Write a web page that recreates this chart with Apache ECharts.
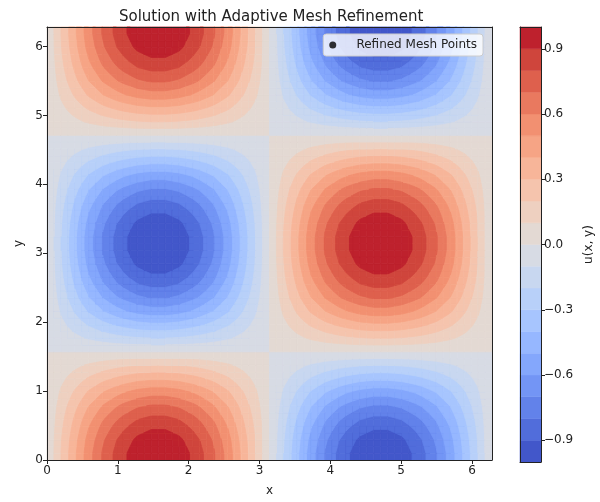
<!DOCTYPE html>
<html>
<head>
<meta charset="utf-8">
<script src="https://cdn.jsdelivr.net/npm/echarts@6/dist/echarts.min.js"></script>
<style>
html, body { margin: 0; padding: 0; background: #fff; }
#main { width: 600px; height: 502px; }
</style>
</head>
<body>
<div id="main"></div>
<script>
// u along the bottom edge (y = 0), read at 65 evenly spaced x nodes from 0 to 2π
const xProfile = [
  0.00, 0.10, 0.20, 0.29, 0.38, 0.47, 0.56, 0.63, 0.71, 0.77, 0.83, 0.88, 0.92, 0.96, 0.98, 1.00, 1.00,
  1.00, 0.98, 0.96, 0.92, 0.88, 0.83, 0.77, 0.71, 0.63, 0.56, 0.47, 0.38, 0.29, 0.20, 0.10, 0.00,
  -0.10, -0.20, -0.29, -0.38, -0.47, -0.56, -0.63, -0.71, -0.77, -0.83, -0.88, -0.92, -0.96, -0.98, -1.00, -1.00,
  -1.00, -0.98, -0.96, -0.92, -0.88, -0.83, -0.77, -0.71, -0.63, -0.56, -0.47, -0.38, -0.29, -0.20, -0.10, 0.00
];
// u along the column x = π/2, read at 65 evenly spaced y nodes from 0 to 2π
const yProfile = [
  1.00, 1.00, 0.98, 0.96, 0.92, 0.88, 0.83, 0.77, 0.71, 0.63, 0.56, 0.47, 0.38, 0.29, 0.20, 0.10, 0.00,
  -0.10, -0.20, -0.29, -0.38, -0.47, -0.56, -0.63, -0.71, -0.77, -0.83, -0.88, -0.92, -0.96, -0.98, -1.00, -1.00,
  -1.00, -0.98, -0.96, -0.92, -0.88, -0.83, -0.77, -0.71, -0.63, -0.56, -0.47, -0.38, -0.29, -0.20, -0.10, 0.00,
  0.10, 0.20, 0.29, 0.38, 0.47, 0.56, 0.63, 0.71, 0.77, 0.83, 0.88, 0.92, 0.96, 0.98, 1.00, 1.00
];
// contour levels, from the colorbar
const levels = [-1.0, -0.9, -0.8, -0.7, -0.6, -0.5, -0.4, -0.3, -0.2, -0.1, 0.0,
                0.1, 0.2, 0.3, 0.4, 0.5, 0.6, 0.7, 0.8, 0.9, 1.0];
// coolwarm colours, one per band
const bandColors = [
  '#4257ca', '#516ddb', '#6282ea', '#7395f5', '#84a7fc', '#96b7ff', '#a7c5fe', '#b8d0f9', '#c8d7f0', '#d7dbe4',
  '#e3d9d3', '#eed0c0', '#f5c4ad', '#f7b599', '#f6a485', '#f29071', '#e9795f', '#de604d', '#cf453c', '#be212d'
];
const xTicks = [0, 1, 2, 3, 4, 5, 6];
const yTicks = [0, 1, 2, 3, 4, 5, 6];
const cbTicks = [-0.9, -0.6, -0.3, 0.0, 0.3, 0.6, 0.9];
const meshName = 'Refined Mesh Points';
const meshPoints = [];

const TWO_PI = 2 * Math.PI;
const FONT = 'DejaVu Sans';
const INK = '#222';

const xs = xProfile.map((_, k) => TWO_PI * k / (xProfile.length - 1));
const ys = yProfile.map((_, k) => TWO_PI * k / (yProfile.length - 1));

// grid cells: corners + u at the four corners
const cells = [];
for (let j = 0; j < ys.length - 1; j++) {
  for (let i = 0; i < xs.length - 1; i++) {
    cells.push([
      xs[i], ys[j], xs[i + 1], ys[j + 1],
      xProfile[i] * yProfile[j],
      xProfile[i + 1] * yProfile[j],
      xProfile[i + 1] * yProfile[j + 1],
      xProfile[i] * yProfile[j + 1]
    ]);
  }
}

function bandOf(v) {
  let b = 0;
  while (b < bandColors.length - 1 && levels[b + 1] <= v) b++;
  return b;
}

// part of a cell where u > c (corners walked in order, edges cut linearly)
function clipAbove(pts, vals, c) {
  const out = [];
  for (let k = 0; k < 4; k++) {
    const a = pts[k], b = pts[(k + 1) % 4];
    const va = vals[k], vb = vals[(k + 1) % 4];
    if (va > c) out.push(a);
    if ((va > c) !== (vb > c)) {
      const t = (c - va) / (vb - va);
      out.push([a[0] + t * (b[0] - a[0]), a[1] + t * (b[1] - a[1])]);
    }
  }
  return out;
}

function poly(points, color) {
  return {
    type: 'polygon',
    shape: { points: points },
    style: { fill: color, stroke: color, lineWidth: 0.8 }
  };
}

function renderCell(params, api) {
  const x0 = api.value(0), y0 = api.value(1), x1 = api.value(2), y1 = api.value(3);
  const vals = [api.value(4), api.value(5), api.value(6), api.value(7)];
  const pts = [api.coord([x0, y0]), api.coord([x1, y0]), api.coord([x1, y1]), api.coord([x0, y1])];
  const lo = Math.min.apply(null, vals), hi = Math.max.apply(null, vals);
  const b0 = bandOf(lo);
  const children = [poly(pts, bandColors[b0])];
  for (let b = b0 + 1; b < bandColors.length; b++) {
    if (levels[b] >= hi) break;
    const p = clipAbove(pts, vals, levels[b]);
    if (p.length >= 3) children.push(poly(p, bandColors[b]));
  }
  return { type: 'group', children: children };
}

function renderBand(params, api) {
  const p0 = api.coord([0, api.value(1)]);
  const p1 = api.coord([1, api.value(0)]);
  const c = bandColors[api.value(2)];
  return {
    type: 'rect',
    shape: { x: p0[0], y: p0[1], width: p1[0] - p0[0], height: p1[1] - p0[1] },
    style: { fill: c, stroke: c, lineWidth: 0.5 }
  };
}

const lineOnly = { show: true, onZero: false, lineStyle: { color: INK, width: 1 } };
const tickStyle = { lineStyle: { color: INK, width: 1 }, length: 4 };
const labelStyle = { color: INK, fontSize: 12, fontFamily: FONT };
const frameOnly = {
  axisLine: lineOnly, axisTick: { show: false }, axisLabel: { show: false }, splitLine: { show: false }
};

const myChart = echarts.init(document.getElementById('main'));
const option = {
  backgroundColor: '#fff',
  animation: false,
  title: {
    text: 'Solution with Adaptive Mesh Refinement',
    left: 114,
    top: 5,
    textStyle: { fontSize: 15, fontWeight: 'normal', color: INK, fontFamily: FONT }
  },
  legend: {
    data: [meshName],
    right: 117,
    top: 34,
    icon: 'circle',
    itemWidth: 22,
    itemHeight: 7,
    padding: [5, 6, 5, 6],
    backgroundColor: 'rgba(255,255,255,0.8)',
    borderColor: '#cccccc',
    borderWidth: 1,
    borderRadius: 3,
    formatter: name => '  ' + name,
    textStyle: { fontSize: 12, color: INK, fontFamily: FONT }
  },
  grid: [
    { left: 47, right: 108, top: 27, bottom: 40 },
    { left: 520, width: 21, top: 27, bottom: 40 }
  ],
  xAxis: [
    {
      gridIndex: 0, type: 'value', min: 0, max: TWO_PI, position: 'bottom', z: 5,
      axisLine: lineOnly,
      axisTick: Object.assign({ show: true, customValues: xTicks }, tickStyle),
      axisLabel: Object.assign({ customValues: xTicks, margin: 5 }, labelStyle),
      splitLine: { show: false },
      name: 'x', nameLocation: 'middle', nameGap: 25,
      nameTextStyle: { color: INK, fontSize: 12, fontFamily: FONT }
    },
    Object.assign({ gridIndex: 0, type: 'value', min: 0, max: TWO_PI, position: 'top', z: 5 }, frameOnly),
    Object.assign({ gridIndex: 1, type: 'value', min: 0, max: 1, position: 'bottom', z: 5 }, frameOnly),
    Object.assign({ gridIndex: 1, type: 'value', min: 0, max: 1, position: 'top', z: 5 }, frameOnly)
  ],
  yAxis: [
    {
      gridIndex: 0, type: 'value', min: 0, max: TWO_PI, position: 'left', z: 5,
      axisLine: lineOnly,
      axisTick: Object.assign({ show: true, customValues: yTicks }, tickStyle),
      axisLabel: Object.assign({ customValues: yTicks, margin: 4 }, labelStyle),
      splitLine: { show: false },
      name: 'y', nameLocation: 'middle', nameGap: 22, nameRotate: 90,
      nameTextStyle: { color: INK, fontSize: 12, fontFamily: FONT }
    },
    Object.assign({ gridIndex: 0, type: 'value', min: 0, max: TWO_PI, position: 'right', z: 5 }, frameOnly),
    {
      gridIndex: 1, type: 'value', min: -1, max: 1, position: 'right', z: 5,
      axisLine: lineOnly,
      axisTick: Object.assign({ show: true, customValues: cbTicks }, tickStyle),
      axisLabel: Object.assign({
        customValues: cbTicks, margin: 3,
        formatter: v => (v < 0 ? '\u2212' : '') + Math.abs(v).toFixed(1)
      }, labelStyle),
      splitLine: { show: false },
      name: 'u(x, y)', nameLocation: 'middle', nameGap: 42, nameRotate: 90,
      nameTextStyle: { color: INK, fontSize: 12, fontFamily: FONT }
    },
    Object.assign({ gridIndex: 1, type: 'value', min: -1, max: 1, position: 'left', z: 5 }, frameOnly)
  ],
  series: [
    {
      type: 'custom',
      name: 'u',
      xAxisIndex: 0,
      yAxisIndex: 0,
      silent: true,
      clip: true,
      renderItem: renderCell,
      encode: { x: [0, 2], y: [1, 3] },
      data: cells
    },
    {
      type: 'custom',
      name: 'colorbar',
      xAxisIndex: 2,
      yAxisIndex: 2,
      silent: true,
      renderItem: renderBand,
      encode: { x: 2, y: [0, 1] },
      data: bandColors.map((c, i) => [levels[i], levels[i + 1], i])
    },
    {
      type: 'scatter',
      name: meshName,
      xAxisIndex: 0,
      yAxisIndex: 0,
      symbolSize: 6,
      itemStyle: { color: '#000' },
      data: meshPoints
    }
  ]
};
myChart.setOption(option);
</script>
</body>
</html>
